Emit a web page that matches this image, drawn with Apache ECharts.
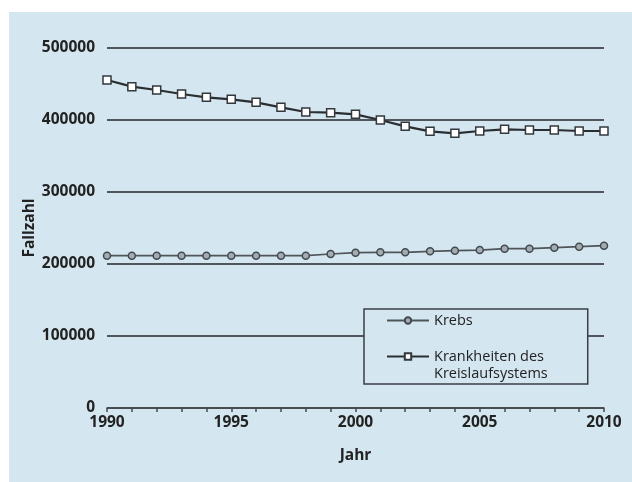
<!DOCTYPE html>
<html>
<head>
<meta charset="utf-8">
<script src="https://cdn.jsdelivr.net/npm/echarts@6/dist/echarts.min.js"></script>
<style>
html,body{margin:0;padding:0;background:#fff;}
#c{width:632px;height:482px;}
</style>
</head>
<body>
<div id="c"></div>
<script>
const years = ['1990','1991','1992','1993','1994','1995','1996','1997','1998','1999','2000','2001','2002','2003','2004','2005','2006','2007','2008','2009','2010'];
const krebs = [211500,211500,211500,211500,211500,211500,211500,211500,211500,213900,215700,216200,216200,217600,218500,219400,221300,221300,222700,224000,225500];
const kreislauf = [455600,446300,441700,436100,431500,428700,424500,417600,411100,410200,407900,400000,391200,384300,381500,384700,387000,386100,386100,384700,384700];
const yTicks = {min: 0, max: 500000, interval: 100000};
const seriesNames = ['Krebs', 'Krankheiten des\nKreislaufsystems'];

const BG = '#d4e6f0';
const FONT = '"Open Sans", sans-serif';
const chart = echarts.init(document.getElementById('c'), null, {renderer: 'canvas'});
chart.setOption({
  backgroundColor: '#ffffff',
  animation: false,
  graphic: [{
    type: 'rect', z: -10, silent: true,
    shape: {x: 9, y: 12, width: 623, height: 470},
    style: {fill: BG}
  }],
  grid: {left: 107, right: 28, top: 48, bottom: 74, containLabel: false},
  xAxis: {
    type: 'category', data: years, boundaryGap: false,
    name: 'Jahr', nameLocation: 'middle', nameGap: 40,
    nameTextStyle: {fontFamily: FONT, fontWeight: 'bold', fontSize: 15.5, color: '#222'},
    axisLine: {show: true, lineStyle: {color: '#444a4f', width: 1.5}},
    axisTick: {show: true, interval: 0, length: 4, lineStyle: {color: '#444a4f', width: 1.5}},
    axisLabel: {interval: 4, margin: 7, fontFamily: FONT, fontWeight: 'bold', fontSize: 15.5, color: '#222'},
    splitLine: {show: false}
  },
  yAxis: {
    type: 'value', min: yTicks.min, max: yTicks.max, interval: yTicks.interval,
    name: 'Fallzahl', nameLocation: 'middle', nameGap: 69, nameRotate: 90, nameMoveOverlap: false,
    nameTextStyle: {fontFamily: FONT, fontWeight: 'bold', fontSize: 15.5, color: '#222'},
    axisLine: {show: false}, axisTick: {show: false},
    axisLabel: {margin: 12, fontFamily: FONT, fontWeight: 'bold', fontSize: 15.5, color: '#222',
      formatter: v => String(v)},
    splitLine: {show: true, lineStyle: {color: '#50565b', width: 1.8}}
  },
  legend: {
    orient: 'vertical', left: 364, top: 309,
    padding: [3, 40, 2, 22], itemGap: 2,
    itemWidth: 42, itemHeight: 8,
    backgroundColor: BG, borderColor: '#3a3f44', borderWidth: 1.5,
    textStyle: {fontFamily: FONT, fontSize: 14.5, color: '#222', lineHeight: 17},
    formatter: name => (name === seriesNames[1] ? '\n' + name : name),
    data: [{name: seriesNames[0]}, {name: seriesNames[1]}]
  },
  series: [
    {
      name: seriesNames[0], type: 'line', data: krebs,
      symbol: 'circle', symbolSize: 7, showSymbol: true,
      lineStyle: {color: '#4f5559', width: 1.7},
      itemStyle: {color: '#a3acb2', borderColor: '#434a4f', borderWidth: 1.5}
    },
    {
      name: seriesNames[1], type: 'line', data: kreislauf,
      symbol: 'rect', symbolSize: 8, showSymbol: true,
      lineStyle: {color: '#2a2e31', width: 2.2},
      itemStyle: {color: '#ffffff', borderColor: '#33383c', borderWidth: 1.5}
    }
  ]
});
</script>
</body>
</html>
